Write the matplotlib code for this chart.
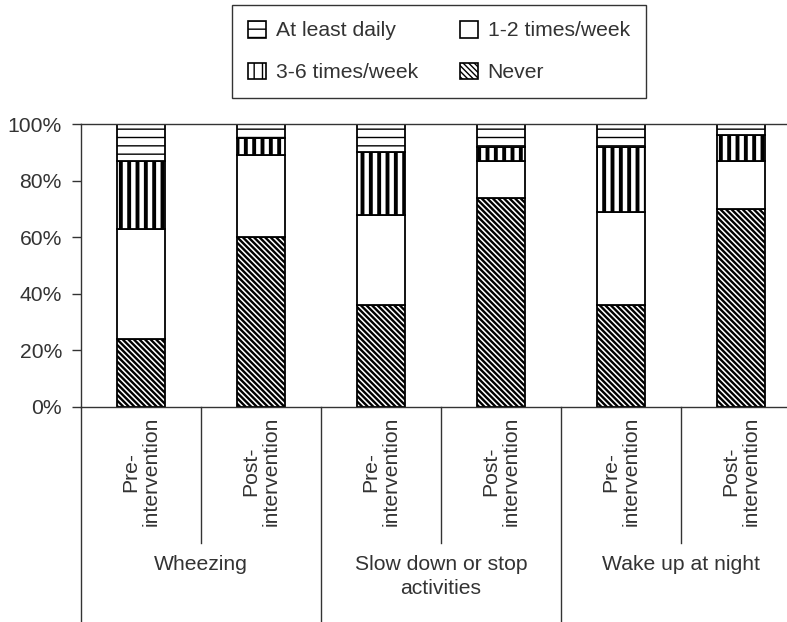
import matplotlib.pyplot as plt
from matplotlib.patches import Patch
from matplotlib.transforms import blended_transform_factory

plt.rcParams['font.family'] = ['Liberation Sans', 'DejaVu Sans']

groups = ["Wheezing", "Slow down or stop\nactivities", "Wake up at night"]
phases = ["Pre-\nintervention", "Post-\nintervention"]

# percent of children, per bar (pre/post for each symptom)
never = [24, 60, 36, 74, 36, 70]
once_twice = [39, 29, 32, 13, 33, 17]
three_six = [24, 6, 22, 5, 23, 9]
daily = [13, 5, 10, 8, 8, 4]

diag = "\\" * 6
series = [
    ("Never", never, diag),
    ("1-2 times/week", once_twice, ""),
    ("3-6 times/week", three_six, "||"),
    ("At least daily", daily, "--"),
]
hatch_lw = {diag: 1.7, "": 1.0, "||": 2.8, "--": 1.0}

text_color = "#333333"
fs = 15.2

fig = plt.figure(figsize=(7.87, 6.22), dpi=100)
ax = fig.add_axes([81 / 787, 1 - 407 / 622, 1 - 81 / 787, 283 / 622])

x = list(range(len(never)))
bottom = [0] * len(x)
handles = {}
for name, vals, hatch in series:
    bars = ax.bar(x, vals, width=0.4, bottom=bottom, color="white",
                  edgecolor="black", linewidth=1.3, hatch=hatch, zorder=2)
    for b in bars:
        if hasattr(b, "set_hatch_linewidth"):
            b.set_hatch_linewidth(hatch_lw[hatch])
    h = Patch(facecolor="white", edgecolor="black", hatch=hatch, linewidth=1.2)
    if hasattr(h, "set_hatch_linewidth"):
        h.set_hatch_linewidth(hatch_lw[hatch])
    handles[name] = h
    bottom = [b + v for b, v in zip(bottom, vals)]

ax.set_xlim(-0.5, (787 - 81) / 120 - 0.5)
ax.set_ylim(0, 100)
ax.set_yticks([0, 20, 40, 60, 80, 100])
ax.set_yticklabels([f"{v}%" for v in [0, 20, 40, 60, 80, 100]])
ax.set_xticks([])
ax.tick_params(axis="y", direction="out", length=6.7, width=1, colors=text_color,
               labelsize=fs, pad=7)
ax.spines["right"].set_visible(False)
for s in ["left", "top", "bottom"]:
    ax.spines[s].set_color(text_color)
    ax.spines[s].set_linewidth(1)

trans = blended_transform_factory(ax.transData, ax.transAxes)
px = 283  # axes height in pixels

# rotated sub-labels
for i in x:
    ax.text(i, -(417 - 407) / px, phases[i % 2], rotation=90, ha="center", va="top",
            multialignment="center", fontsize=fs, color=text_color, transform=trans,
            linespacing=1.15)

# separator lines below the axis
for i in range(len(x)):
    xpos = i - 0.5
    y_end = -(622 - 407) / px if i % 2 == 0 else -(543 - 407) / px
    ax.plot([xpos, xpos], [0, y_end], color=text_color, lw=1, transform=trans,
            clip_on=False)

# group labels
for g, name in enumerate(groups):
    ax.text(2 * g + 0.5, -(555 - 407) / px, name, ha="center", va="top",
            multialignment="center", fontsize=fs, color=text_color,
            transform=trans, linespacing=1.3)

order = ["At least daily", "3-6 times/week", "1-2 times/week", "Never"]
leg = fig.legend([handles[n] for n in order], order, ncol=2, loc="center",
                 bbox_to_anchor=(439 / 787, 1 - 51.5 / 622), fontsize=fs,
                 frameon=True, fancybox=False, edgecolor="black",
                 handlelength=0.85, handleheight=0.85, handletextpad=0.45,
                 columnspacing=2.0, labelspacing=1.05, borderpad=0.75,
                 labelcolor=text_color)
leg.get_frame().set_linewidth(1)

fig.savefig("out.png", dpi=100)
